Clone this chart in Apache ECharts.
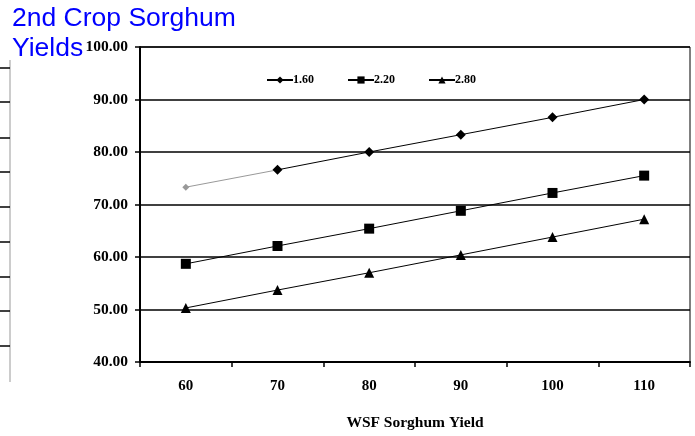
<!DOCTYPE html>
<html>
<head>
<meta charset="utf-8">
<script src="https://cdn.jsdelivr.net/npm/echarts@6/dist/echarts.min.js"></script>
<style>html,body{margin:0;padding:0;background:#fff;}#c{width:695px;height:436px;}</style>
</head>
<body>
<div id="c"></div>
<script>
const categories = ['60', '70', '80', '90', '100', '110'];
const series160 = [73.3, 76.6, 80.0, 83.3, 86.6, 90.0];
const series220 = [58.7, 62.1, 65.4, 68.8, 72.2, 75.5];
const series280 = [50.3, 53.7, 57.0, 60.4, 63.8, 67.2];
const seriesNames = ['1.60', '2.20', '2.80'];

// first segment of the 1.60 series is drawn in gray in the original
const series160First = series160.map((v, i) => i <= 1 ? v : '-');
const series160Rest = series160.map((v, i) => i >= 1 ? v : '-');

const serif = '"Liberation Serif", "Times New Roman", serif';
const chart = echarts.init(document.getElementById('c'));
const lineCommon = {
  type: 'line',
  lineStyle: { color: '#000', width: 1 },
  itemStyle: { color: '#000' },
  emphasis: { disabled: true },
  animation: false
};
chart.setOption({
  backgroundColor: '#fff',
  animation: false,
  title: {
    text: '2nd Crop Sorghum\nYields',
    left: 7, top: -1,
    textStyle: { fontFamily: '"Liberation Sans", Arial, sans-serif', fontSize: 26.5, fontWeight: 'normal', color: '#0000ff', lineHeight: 30 }
  },
  legend: {
    left: 261, top: 69,
    itemGap: 33, itemWidth: 26, itemHeight: 9,
    textStyle: { fontFamily: serif, fontWeight: 'bold', fontSize: 12, color: '#000', padding: [0, 0, 0, -5] },
    data: seriesNames
  },
  grid: { left: 140, right: 5, top: 47, bottom: 72, show: true, borderColor: '#000', borderWidth: 1 },
  xAxis: {
    type: 'category', data: categories, boundaryGap: true,
    name: 'WSF Sorghum Yield', nameLocation: 'middle', nameGap: 53,
    nameTextStyle: { fontFamily: serif, fontWeight: 'bold', fontSize: 15.5, color: '#000' },
    axisLine: { lineStyle: { color: '#000', width: 2 } },
    axisTick: { show: true, length: 5, lineStyle: { color: '#000', width: 1.5 } },
    axisLabel: { margin: 17, fontFamily: serif, fontWeight: 'bold', fontSize: 15, color: '#000' }
  },
  yAxis: {
    type: 'value', min: 40, max: 100, interval: 10,
    axisLine: { show: true, lineStyle: { color: '#000', width: 2 } },
    axisTick: { show: true, length: 5, lineStyle: { color: '#000', width: 1.5 } },
    splitLine: { lineStyle: { color: '#000', width: 1.5 } },
    axisLabel: { margin: 12, fontFamily: serif, fontWeight: 'bold', fontSize: 15.5, color: '#000', formatter: v => v.toFixed(2) }
  },
  graphic: [
    { type: 'line', shape: { x1: 10, y1: 60, x2: 10, y2: 382 }, style: { stroke: '#999', lineWidth: 1 } },
    ...[68, 102, 138, 172, 207, 242, 277, 311, 346].map(y => ({
      type: 'line', shape: { x1: 0, y1: y, x2: 10, y2: y }, style: { stroke: '#000', lineWidth: 1.5 }
    }))
  ],
  series: [
    Object.assign({}, lineCommon, {
      name: 'first', data: series160First, symbol: 'diamond', symbolSize: 7,
      lineStyle: { color: '#999', width: 1 }, itemStyle: { color: '#999' }, z: 1
    }),
    Object.assign({}, lineCommon, { name: seriesNames[0], data: series160Rest, symbol: 'diamond', symbolSize: 10, z: 3 }),
    Object.assign({}, lineCommon, { name: seriesNames[1], data: series220, symbol: 'rect', symbolSize: 10, z: 3 }),
    Object.assign({}, lineCommon, { name: seriesNames[2], data: series280, symbol: 'triangle', symbolSize: 10, z: 3 })
  ]
});
</script>
</body>
</html>
